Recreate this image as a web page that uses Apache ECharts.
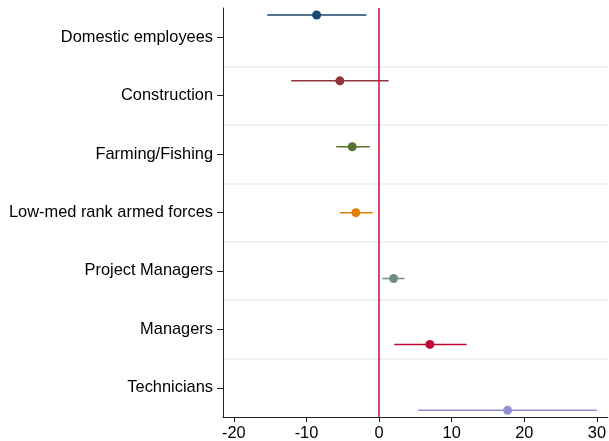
<!DOCTYPE html>
<html>
<head>
<meta charset="utf-8">
<script src="https://cdn.jsdelivr.net/npm/echarts@6/dist/echarts.min.js"></script>
<style>
  html, body { margin: 0; padding: 0; background: #fff; }
  #chart { width: 609px; height: 441px; }
</style>
</head>
<body>
<div id="chart"></div>
<script>
// Occupation groups, top to bottom
const categories = [
  'Domestic employees',
  'Construction',
  'Farming/Fishing',
  'Low-med rank armed forces',
  'Project Managers',
  'Managers',
  'Technicians'
];
// Point estimates and confidence bounds
const estimates = [-8.6, -5.4, -3.7, -3.2, 2.0, 7.0, 17.7];
const lowerCI   = [-15.4, -12.1, -5.9, -5.4, 0.45, 2.1, 5.4];
const upperCI   = [-1.75, 1.3, -1.3, -0.9, 3.5, 12.05, 30.0];
const xTicks = [-20, -10, 0, 10, 20, 30];

// Stata s2color palette, one colour per group
const palette = ['#1a476f', '#90353b', '#55752f', '#e37e00', '#6e8e84', '#c10534', '#938dd2'];

const n = categories.length;
const rows = categories.map((c, i) => ({
  pos: n - i,
  est: estimates[i],
  lo: lowerCI[i],
  hi: upperCI[i]
}));

const chart = echarts.init(document.getElementById('chart'), null, { renderer: 'canvas' });

const font = 'Liberation Sans, Arial, sans-serif';

chart.setOption({
  animation: false,
  backgroundColor: '#ffffff',
  grid: { left: 223, right: 0, top: 8, bottom: 23, containLabel: false },
  xAxis: {
    type: 'value',
    min: -21.5,
    max: 31.5,
    axisLine: { show: true, onZero: false, lineStyle: { color: '#222', width: 1 } },
    axisTick: { show: true, length: 5, customValues: xTicks, lineStyle: { color: '#222' } },
    axisLabel: { customValues: xTicks, color: '#000', fontSize: 16.4, fontFamily: font, margin: 8 },
    splitLine: { show: false }
  },
  yAxis: [
    {
      type: 'category',
      data: categories,
      inverse: true,
      position: 'left',
      axisLine: { show: true, onZero: false, lineStyle: { color: '#222', width: 1 } },
      axisTick: { show: true, alignWithLabel: true, length: 6, lineStyle: { color: '#222' } },
      axisLabel: { color: '#000', fontSize: 16.4, fontFamily: font, margin: 10 },
      splitLine: {
        show: true,
        showMinLine: false,
        showMaxLine: false,
        lineStyle: { color: '#e6eff1', width: 1.5 }
      }
    },
    {
      type: 'value',
      show: false,
      min: 0.8985,
      max: 7.106,
      splitLine: { show: false }
    }
  ],
  series: [
    {
      // Confidence interval whiskers
      type: 'custom',
      xAxisIndex: 0,
      yAxisIndex: 1,
      data: rows.map(r => [r.lo, r.hi, r.pos]),
      encode: { x: [0, 1], y: 2 },
      renderItem: function (params, api) {
        const a = api.coord([api.value(0), api.value(2)]);
        const b = api.coord([api.value(1), api.value(2)]);
        return {
          type: 'line',
          shape: { x1: a[0], y1: a[1], x2: b[0], y2: b[1] },
          style: { stroke: palette[params.dataIndex], lineWidth: 1.5 }
        };
      },
      z: 2
    },
    {
      // Point estimates
      type: 'scatter',
      xAxisIndex: 0,
      yAxisIndex: 1,
      symbol: 'circle',
      symbolSize: 9,
      data: rows.map(r => [r.est, r.pos]),
      itemStyle: {
        color: function (p) { return palette[p.dataIndex]; },
        opacity: 1
      },
      markLine: {
        silent: true,
        symbol: 'none',
        label: { show: false },
        lineStyle: { color: '#d4083c', width: 1.5, type: 'solid', opacity: 1 },
        emphasis: { disabled: true },
        data: [{ xAxis: 0 }]
      },
      z: 3
    }
  ]
});
</script>
</body>
</html>
